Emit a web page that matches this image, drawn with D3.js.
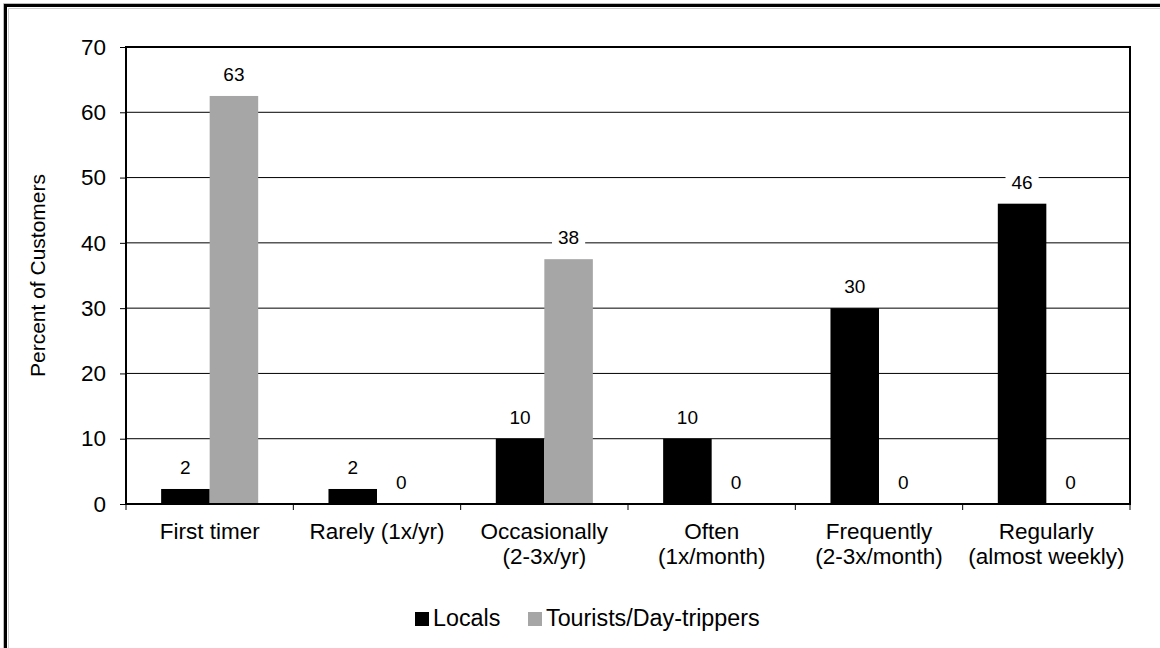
<!DOCTYPE html>
<html>
<head>
<meta charset="utf-8">
<script src="https://cdn.jsdelivr.net/npm/d3@7"></script>
<style>
  html, body { margin: 0; padding: 0; background: #fff; }
  svg { display: block; font-family: "Liberation Sans", Arial, sans-serif; }
</style>
</head>
<body>
<svg id="chart" width="1160" height="648"></svg>
<script>
// ---- data ----
const categories = [
  ["First timer"],
  ["Rarely (1x/yr)"],
  ["Occasionally", "(2-3x/yr)"],
  ["Often", "(1x/month)"],
  ["Frequently", "(2-3x/month)"],
  ["Regularly", "(almost weekly)"]
];
const seriesNames = ["Locals", "Tourists/Day-trippers"];
const locals = [2.3, 2.3, 10, 10, 30, 46];
const tourists = [62.5, 0, 37.5, 0, 0, 0];
const yTicks = [0, 10, 20, 30, 40, 50, 60, 70];
const yTitle = "Percent of Customers";
const colors = ["#000000", "#a6a6a6"];

// ---- layout ----
const svg = d3.select("#chart");
const W = 1160, H = 648;
const plot = { left: 126, right: 1130, top: 47, bottom: 504 };

// outer frame (top-left portion visible)
const frame = svg.append("g");
frame.append("path").attr("d", `M3.5,${H} V3.5 H${W}`).attr("fill", "none").attr("stroke", "#bbb").attr("stroke-width", 1);
frame.append("path").attr("d", `M5.5,${H} V5.5 H${W}`).attr("fill", "none").attr("stroke", "#000").attr("stroke-width", 3);
frame.append("path").attr("d", `M8.5,${H} V8.5 H${W}`).attr("fill", "none").attr("stroke", "#ccc").attr("stroke-width", 1);

const x0 = d3.scaleBand().domain(d3.range(categories.length)).range([plot.left, plot.right]).paddingInner(0).paddingOuter(0);
const groupW = x0.bandwidth() * 0.58;
const x1 = d3.scaleBand().domain(d3.range(seriesNames.length)).range([0, groupW]);
const y = d3.scaleLinear().domain([0, 70]).range([plot.bottom, plot.top]);

// gridlines
svg.append("g").selectAll("line").data(yTicks.filter(t => t > 0)).join("line")
  .attr("x1", plot.left).attr("x2", plot.right)
  .attr("y1", d => y(d)).attr("y2", d => y(d))
  .attr("stroke", "#000").attr("stroke-width", 1);

// bars
const series = [locals, tourists];
const groups = svg.append("g").selectAll("g").data(categories).join("g")
  .attr("transform", (d, i) => `translate(${x0(i) + (x0.bandwidth() - groupW) / 2},0)`);
groups.selectAll("rect").data((d, i) => series.map((s, k) => ({ k, v: s[i] }))).join("rect")
  .attr("x", d => x1(d.k)).attr("width", x1.bandwidth())
  .attr("y", d => y(d.v)).attr("height", d => y(0) - y(d.v))
  .attr("fill", d => colors[d.k]);

// value labels with white background
const fmt = d3.format(".0f");
const labG = groups.selectAll("g.lab").data((d, i) => series.map((s, k) => ({ k, v: s[i] }))).join("g")
  .attr("class", "lab")
  .attr("transform", d => `translate(${x1(d.k) + x1.bandwidth() / 2},${y(d.v) - 15})`);
labG.each(function(d) {
  const g = d3.select(this);
  const t = g.append("text").attr("text-anchor", "middle").attr("font-size", 19).attr("fill", "#000").text(fmt(d.v));
  const bb = t.node().getBBox();
  g.insert("rect", "text").attr("x", bb.x - 6).attr("y", -17).attr("width", bb.width + 12).attr("height", 21).attr("fill", "#fff");
});

// plot border
svg.append("rect").attr("x", plot.left).attr("y", plot.top)
  .attr("width", plot.right - plot.left).attr("height", plot.bottom - plot.top)
  .attr("fill", "none").attr("stroke", "#000").attr("stroke-width", 2);

// y axis
const yAxis = d3.axisLeft(y).tickValues(yTicks).tickSize(6).tickPadding(14).tickFormat(d3.format("d"));
const yg = svg.append("g").attr("transform", `translate(${plot.left},0)`).call(yAxis);
yg.select(".domain").remove();
yg.selectAll("line").attr("stroke", "#000");
yg.selectAll("text").attr("font-size", 22.5).attr("fill", "#000").attr("font-family", "Liberation Sans, Arial, sans-serif");

// x axis ticks at band boundaries
const bounds = d3.range(categories.length + 1).map(i => i < categories.length ? x0(i) : plot.right);
svg.append("g").selectAll("line").data(bounds).join("line")
  .attr("x1", d => d).attr("x2", d => d).attr("y1", plot.bottom).attr("y2", plot.bottom + 6)
  .attr("stroke", "#000").attr("stroke-width", 1);

// x labels
svg.append("g").selectAll("text").data(categories).join("text")
  .attr("text-anchor", "middle").attr("font-size", 22.5).attr("fill", "#000")
  .attr("transform", (d, i) => `translate(${x0(i) + x0.bandwidth() / 2},539)`)
  .selectAll("tspan").data(d => d).join("tspan")
  .attr("x", 0).attr("y", (d, j) => j * 25).text(d => d);

// y title
svg.append("text").attr("transform", `translate(45,${(plot.top + plot.bottom) / 2}) rotate(-90)`)
  .attr("text-anchor", "middle").attr("font-size", 21).attr("fill", "#000").text(yTitle);

// legend
const legendX = [415, 528];
const leg = svg.append("g").selectAll("g").data(seriesNames).join("g")
  .attr("transform", (d, i) => `translate(${legendX[i]},612)`);
leg.append("rect").attr("width", 14).attr("height", 14).attr("fill", (d, i) => colors[i]);
leg.append("text").attr("x", 18).attr("y", 14).attr("font-size", 23.3).attr("fill", "#000").text(d => d);
</script>
</body>
</html>
